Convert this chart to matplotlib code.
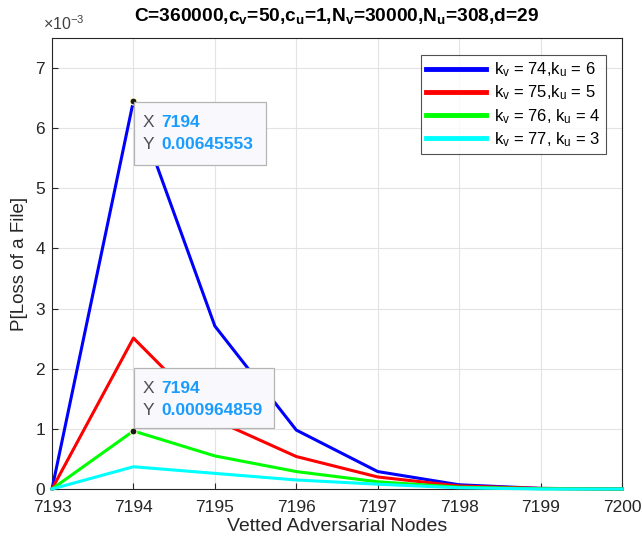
import matplotlib
matplotlib.use("Agg")
import matplotlib.pyplot as plt
import numpy as np
from matplotlib.ticker import FuncFormatter
from matplotlib.patches import Rectangle

plt.rcParams['font.family'] = ['Liberation Sans', 'DejaVu Sans']
plt.rcParams['mathtext.fontset'] = 'custom'
plt.rcParams['mathtext.rm'] = 'Liberation Sans'
plt.rcParams['mathtext.it'] = 'Liberation Sans:italic'
plt.rcParams['mathtext.bf'] = 'Liberation Sans:bold'

x = [7193, 7194, 7195, 7196, 7197, 7198, 7199, 7200]
# values in units of 1e-3
blue = [0.0, 6.45553, 2.71, 0.98, 0.29, 0.07, 0.01, 0.0]
red = [0.0, 2.51, 1.15, 0.54, 0.20, 0.05, 0.01, 0.0]
green = [0.0, 0.964859, 0.55, 0.29, 0.12, 0.03, 0.005, 0.0]
cyan = [0.0, 0.37, 0.26, 0.15, 0.08, 0.02, 0.0, 0.0]
labels = [r'k$_\mathrm{v}$ = 74,k$_\mathrm{u}$ = 6', r'k$_\mathrm{v}$ = 75,k$_\mathrm{u}$ = 5',
          r'k$_\mathrm{v}$ = 76, k$_\mathrm{u}$ = 4', r'k$_\mathrm{v}$ = 77, k$_\mathrm{u}$ = 3']
colors = ['#0000ff', '#ff0000', '#00ff00', '#00ffff']
series = [blue, red, green, cyan]

fig = plt.figure(figsize=(6.42, 5.41), dpi=100)
ax = fig.add_axes([52/642, 52/541, 570/642, 451/541])

for s, c, l in zip(series, colors, labels):
    ax.plot(x, np.array(s) * 1e-3, color=c, lw=2.2, label=l, clip_on=False, zorder=3)

ax.set_xlim(7193, 7200)
ax.set_ylim(0, 7.5e-3)
ax.set_yticks(np.arange(0, 8) * 1e-3)
ax.set_xticks(x)
ax.yaxis.set_major_formatter(FuncFormatter(lambda v, p: f'{v*1e3:g}'))
ax.grid(True, color='#e3e3e3', lw=0.8)
ax.set_axisbelow(True)
ax.tick_params(direction='in', length=4, labelsize=12.5, colors='#262626', top=False, right=False)
ax.tick_params(axis='x', pad=8)
ax.tick_params(axis='y', pad=5)
for sp in ax.spines.values():
    sp.set_color('#262626')
    sp.set_linewidth(0.8)

ax.set_xlabel('Vetted Adversarial Nodes', fontsize=14, color='#262626', labelpad=2)
ax.set_ylabel('P[Loss of a File]', fontsize=13.5, color='#262626', labelpad=5)
ax.set_title(r'C=360000,c$_\mathbf{v}$=50,c$_\mathbf{u}$=1,N$_\mathbf{v}$=30000,N$_\mathbf{u}$=308,d=29',
             fontsize=13.8, fontweight='bold', pad=12)
ax.text(-0.016, 1.012, r'$\times$10$^{-3}$', transform=ax.transAxes, fontsize=11.5,
        color='#404040', va='bottom', ha='left')

leg = ax.legend(loc='upper right', bbox_to_anchor=(0.972, 0.962), fontsize=12,
                frameon=True, fancybox=False, edgecolor='#262626', borderaxespad=0,
                handlelength=3.6, borderpad=0.32, labelspacing=0.27, handletextpad=0.5)
leg.get_frame().set_linewidth(0.8)
for line in leg.get_lines():
    line.set_linewidth(3.5)

# data tips
def px2data(px, py):
    return 7193 + (px - 52) / 81.43, (489 - py) / 60.13 * 1e-3

tips = [(x[1], blue[1], '0.00645553', (134, 102, 266, 165)),
        (x[1], green[1], '0.000964859', (134, 368, 274, 428))]
for tx, ty, lab, (l, t, r, b) in tips:
    ax.plot([tx], [ty * 1e-3], 'o', color='#1a1a1a', ms=5, mec='#ffffcc', mew=0.8, zorder=6, clip_on=False)
    x0, y1 = px2data(l, t)
    x1, y0 = px2data(r, b)
    ax.add_patch(Rectangle((x0, y0), x1 - x0, y1 - y0, fc='#f9f9fd', ec='#b4b4b4', lw=0.9, zorder=7))
    xl, yr1 = px2data(l + 9, t + 21)
    xv, yr2 = px2data(l + 27, t + 43)
    ax.text(xl, yr1, 'X', fontsize=12.5, color='#505050', va='center', ha='left', zorder=8)
    ax.text(xl, yr2, 'Y', fontsize=12.5, color='#505050', va='center', ha='left', zorder=8)
    ax.text(xv, yr1, f'{tx}', fontsize=12.5, color='#1a9cff', fontweight='bold', va='center', ha='left', zorder=8)
    ax.text(xv, yr2, lab, fontsize=12.5, color='#1a9cff', fontweight='bold', va='center', ha='left', zorder=8)

fig.savefig('out.png', dpi=100)
